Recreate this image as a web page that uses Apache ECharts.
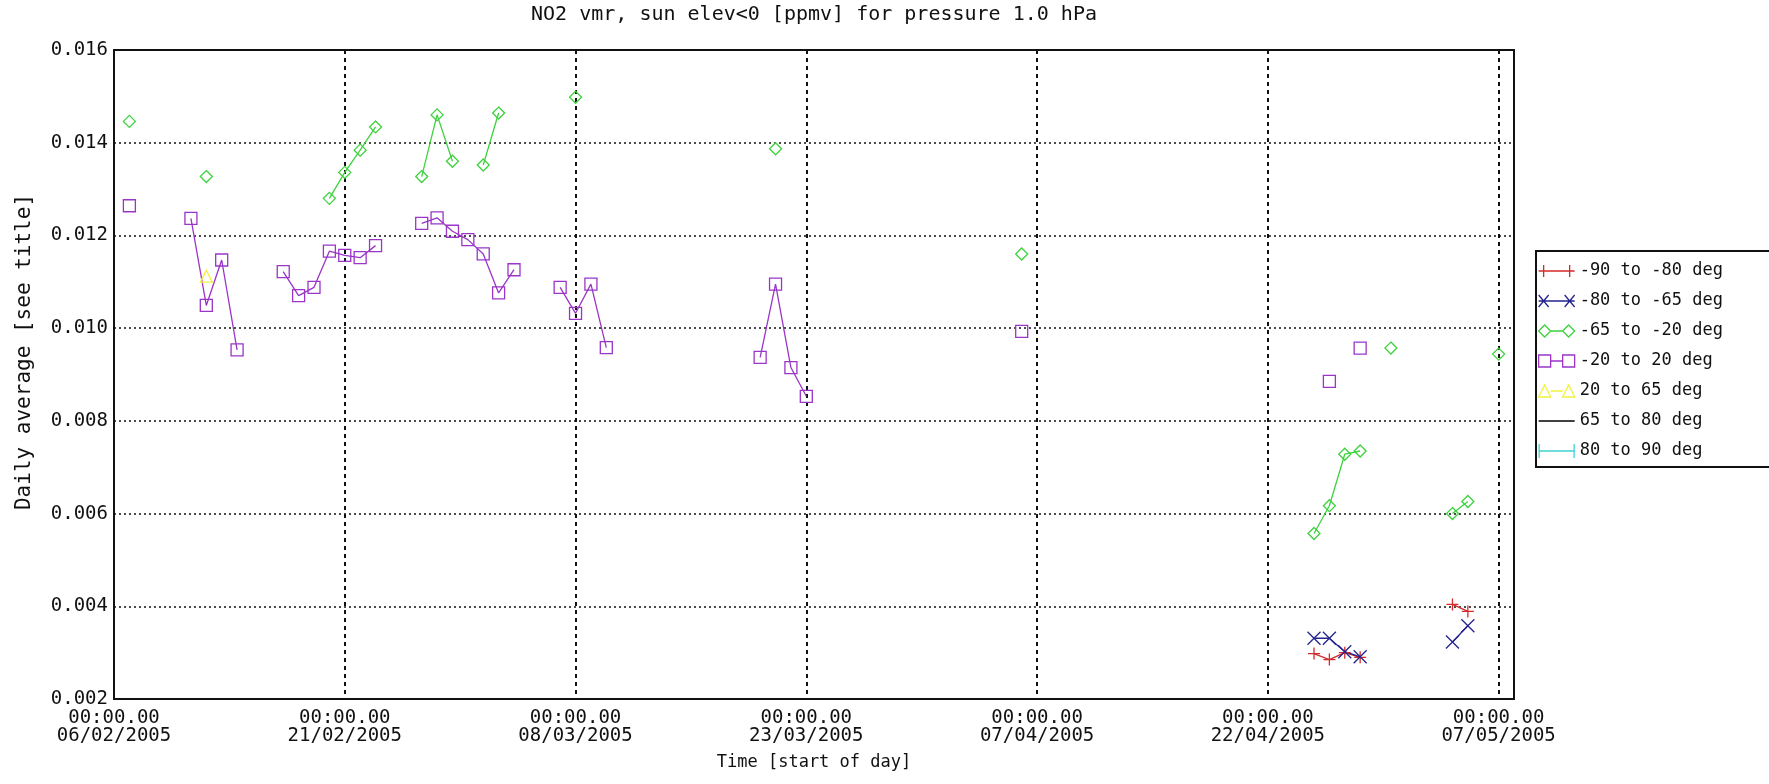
<!DOCTYPE html>
<html>
<head>
<meta charset="utf-8">
<script src="https://cdn.jsdelivr.net/npm/echarts@6/dist/echarts.min.js"></script>
<style>html,body{margin:0;padding:0;background:#fff}#c{width:1769px;height:784px}</style>
</head>
<body>
<div id="c"></div>
<script>
// ---- data ----
const seriesNames = ['-90 to -80 deg','-80 to -65 deg','-65 to -20 deg','-20 to 20 deg','20 to 65 deg','65 to 80 deg','80 to 90 deg'];
const startDate = '2005-02-06';
const xTickDays = [0, 15, 30, 45, 60, 75, 90];
const yTicks = [0.002, 0.004, 0.006, 0.008, 0.010, 0.012, 0.014, 0.016];

const s1Dates = ['2005-04-25','2005-04-26','2005-04-27','2005-04-28','2005-05-04','2005-05-05'];
const s1Vals  = [0.00298, 0.00285, 0.00300, 0.00290, 0.00404, 0.00389];

const s2Dates = ['2005-04-25','2005-04-26','2005-04-27','2005-04-28','2005-05-04','2005-05-05'];
const s2Vals  = [0.00331, 0.00331, 0.00302, 0.00291, 0.00323, 0.00358];

const s3Dates = ['2005-02-07','2005-02-12','2005-02-20','2005-02-21','2005-02-22','2005-02-23','2005-02-26','2005-02-27','2005-02-28','2005-03-02','2005-03-03','2005-03-08','2005-03-21','2005-04-06','2005-04-25','2005-04-26','2005-04-27','2005-04-28','2005-04-30','2005-05-04','2005-05-05','2005-05-07'];
const s3Vals  = [0.01446, 0.01327, 0.01280, 0.01336, 0.01384, 0.01434, 0.01327, 0.01460, 0.01360, 0.01352, 0.01464, 0.01498, 0.01387, 0.01160, 0.00557, 0.00617, 0.00728, 0.00735, 0.00957, 0.00600, 0.00626, 0.00944];

const s4Dates = ['2005-02-07','2005-02-11','2005-02-12','2005-02-13','2005-02-14','2005-02-17','2005-02-18','2005-02-19','2005-02-20','2005-02-21','2005-02-22','2005-02-23','2005-02-26','2005-02-27','2005-02-28','2005-03-01','2005-03-02','2005-03-03','2005-03-04','2005-03-07','2005-03-08','2005-03-09','2005-03-10','2005-03-20','2005-03-21','2005-03-22','2005-03-23','2005-04-06','2005-04-26','2005-04-28'];
const s4Vals  = [0.01264, 0.01237, 0.01049, 0.01147, 0.00953, 0.01122, 0.01070, 0.01088, 0.01166, 0.01157, 0.01152, 0.01178, 0.01226, 0.01238, 0.01209, 0.01191, 0.01160, 0.01076, 0.01126, 0.01088, 0.01032, 0.01095, 0.00958, 0.00937, 0.01095, 0.00915, 0.00853, 0.00993, 0.00885, 0.00957];

const s5Dates = ['2005-02-12'];
const s5Vals  = [0.01112];

const s6Dates = [];
const s6Vals  = [];
const s7Dates = [];
const s7Vals  = [];

// ---- helpers ----
const DAY = 86400000;
function utc(s){ const p = s.split('-').map(Number); return Date.UTC(p[0], p[1]-1, p[2]); }
const t0 = utc(startDate);
function dayOf(s){ return Math.round((utc(s) - t0) / DAY); }
function build(dates, vals){
  const out = [];
  for (let i = 0; i < dates.length; i++){
    const d = dayOf(dates[i]);
    if (i > 0 && d - dayOf(dates[i-1]) > 1) out.push([d - 0.5, null]); // break line at gaps
    out.push([d, vals[i]]);
  }
  return out;
}
function pad(n){ return (n < 10 ? '0' : '') + n; }
function fmtDay(v){
  const dt = new Date(t0 + v * DAY);
  return '00:00.00\n' + pad(dt.getUTCDate()) + '/' + pad(dt.getUTCMonth()+1) + '/' + dt.getUTCFullYear();
}

const colors = ['#d42a2a', '#24248f', '#3ed23e', '#9a35c8', '#f2f23a', '#000000', '#3fd2d2'];
const symbols = [
  'path://M5,0 L5,10 M0,5 L10,5',
  'path://M0,0 L10,10 M10,0 L0,10',
  'path://M5,0 L10,5 L5,10 L0,5 Z',
  'path://M0,0 L10,0 L10,10 L0,10 Z',
  'path://M5,0 L10,10 L0,10 Z',
  'none',
  'path://M5,0 L5,10'
];
const symSizes = [12, 13, 12, 12, 12, 0, 12];
const legendIcons = [
  'path://M0,7 L36,7 M5,1 L5,13 M31,1 L31,13',
  'path://M0,7 L36,7 M0,1 L10,13 M10,1 L0,13 M26,1 L36,13 M36,1 L26,13',
  'path://M0,7 L6,1 L12,7 L6,13 Z M12,7 L24,7 M24,7 L30,1 L36,7 L30,13 Z',
  'path://M0,1 L12,1 L12,13 L0,13 Z M12,7 L24,7 M24,1 L36,1 L36,13 L24,13 Z',
  'path://M0,13 L6,1 L12,13 Z M12,7 L24,7 M24,13 L30,1 L36,13 Z',
  'path://M0,7 L36,7 M36,1 L36,1 M36,13 L36,13',
  'path://M4,1 L4,13 M4,7 L34,7 M34,1 L34,13'
];
const allDates = [s1Dates, s2Dates, s3Dates, s4Dates, s5Dates, s6Dates, s7Dates];
const allVals  = [s1Vals, s2Vals, s3Vals, s4Vals, s5Vals, s6Vals, s7Vals];

const FONT = '"DejaVu Sans Mono", "Liberation Mono", monospace';

const series = seriesNames.map((name, i) => ({
  name: name,
  type: 'line',
  data: build(allDates[i], allVals[i]),
  symbol: symbols[i],
  symbolSize: symSizes[i],
  showSymbol: true,
  connectNulls: false,
  itemStyle: { color: 'rgba(0,0,0,0)', borderColor: colors[i], borderWidth: 1.3 },
  lineStyle: { color: colors[i], width: 1.3 },
  emphasis: { disabled: true },
  z: 3
}));

const chart = echarts.init(document.getElementById('c'), null, { renderer: 'canvas' });
chart.setOption({
  animation: false,
  backgroundColor: '#ffffff',
  grid: { left: 114, right: 255, top: 50, bottom: 85, show: true, borderColor: '#111', borderWidth: 2, backgroundColor: 'transparent' },
  graphic: [{
    type: 'text', x: 814, y: 15,
    style: { text: 'NO2 vmr, sun elev<0 [ppmv] for pressure 1.0 hPa', textAlign: 'center', textVerticalAlign: 'middle',
             fontSize: 20, fontFamily: FONT, fill: '#111' }
  }, {
    type: 'text', x: 25, y: 352, rotation: Math.PI / 2,
    style: { text: 'Daily average [see title]', textAlign: 'center', textVerticalAlign: 'middle',
             fontSize: 21, fontFamily: FONT, fill: '#111' }
  }],
  xAxis: {
    type: 'value', min: 0, max: 91, interval: 15,
    name: 'Time [start of day]', nameLocation: 'middle', nameGap: 55,
    nameTextStyle: { fontSize: 17, fontFamily: FONT, color: '#111' },
    axisLine: { show: false }, axisTick: { show: false },
    axisLabel: {
      margin: 10, fontSize: 19, lineHeight: 18, fontFamily: FONT, color: '#111',
      formatter: v => (xTickDays.indexOf(v) >= 0 ? fmtDay(v) : '')
    },
    splitLine: { show: true, lineStyle: { color: '#111', width: 2, type: [4, 4] } }
  },
  yAxis: {
    type: 'value', min: yTicks[0], max: yTicks[yTicks.length-1], interval: 0.002,
    axisLine: { show: false }, axisTick: { show: false },
    axisLabel: { margin: 6, fontSize: 19, fontFamily: FONT, color: '#111', formatter: v => v.toFixed(3) },
    splitLine: { show: true, lineStyle: { color: '#111', width: 1.5, type: [2, 3] } }
  },
  legend: {
    orient: 'vertical', left: 1536, top: 251,
    backgroundColor: '#fff', borderColor: '#111', borderWidth: 2,
    padding: [11, 80, 7, 2], itemGap: 12, itemWidth: 36, itemHeight: 14,
    selectedMode: false,
    textStyle: { fontSize: 17, lineHeight: 18, fontFamily: FONT, color: '#111' },
    data: seriesNames.map((n, i) => ({
      name: n, icon: legendIcons[i],
      itemStyle: { color: 'rgba(0,0,0,0)', borderColor: colors[i], borderWidth: 1.3 }
    }))
  },
  series: series
});
</script>
</body>
</html>
